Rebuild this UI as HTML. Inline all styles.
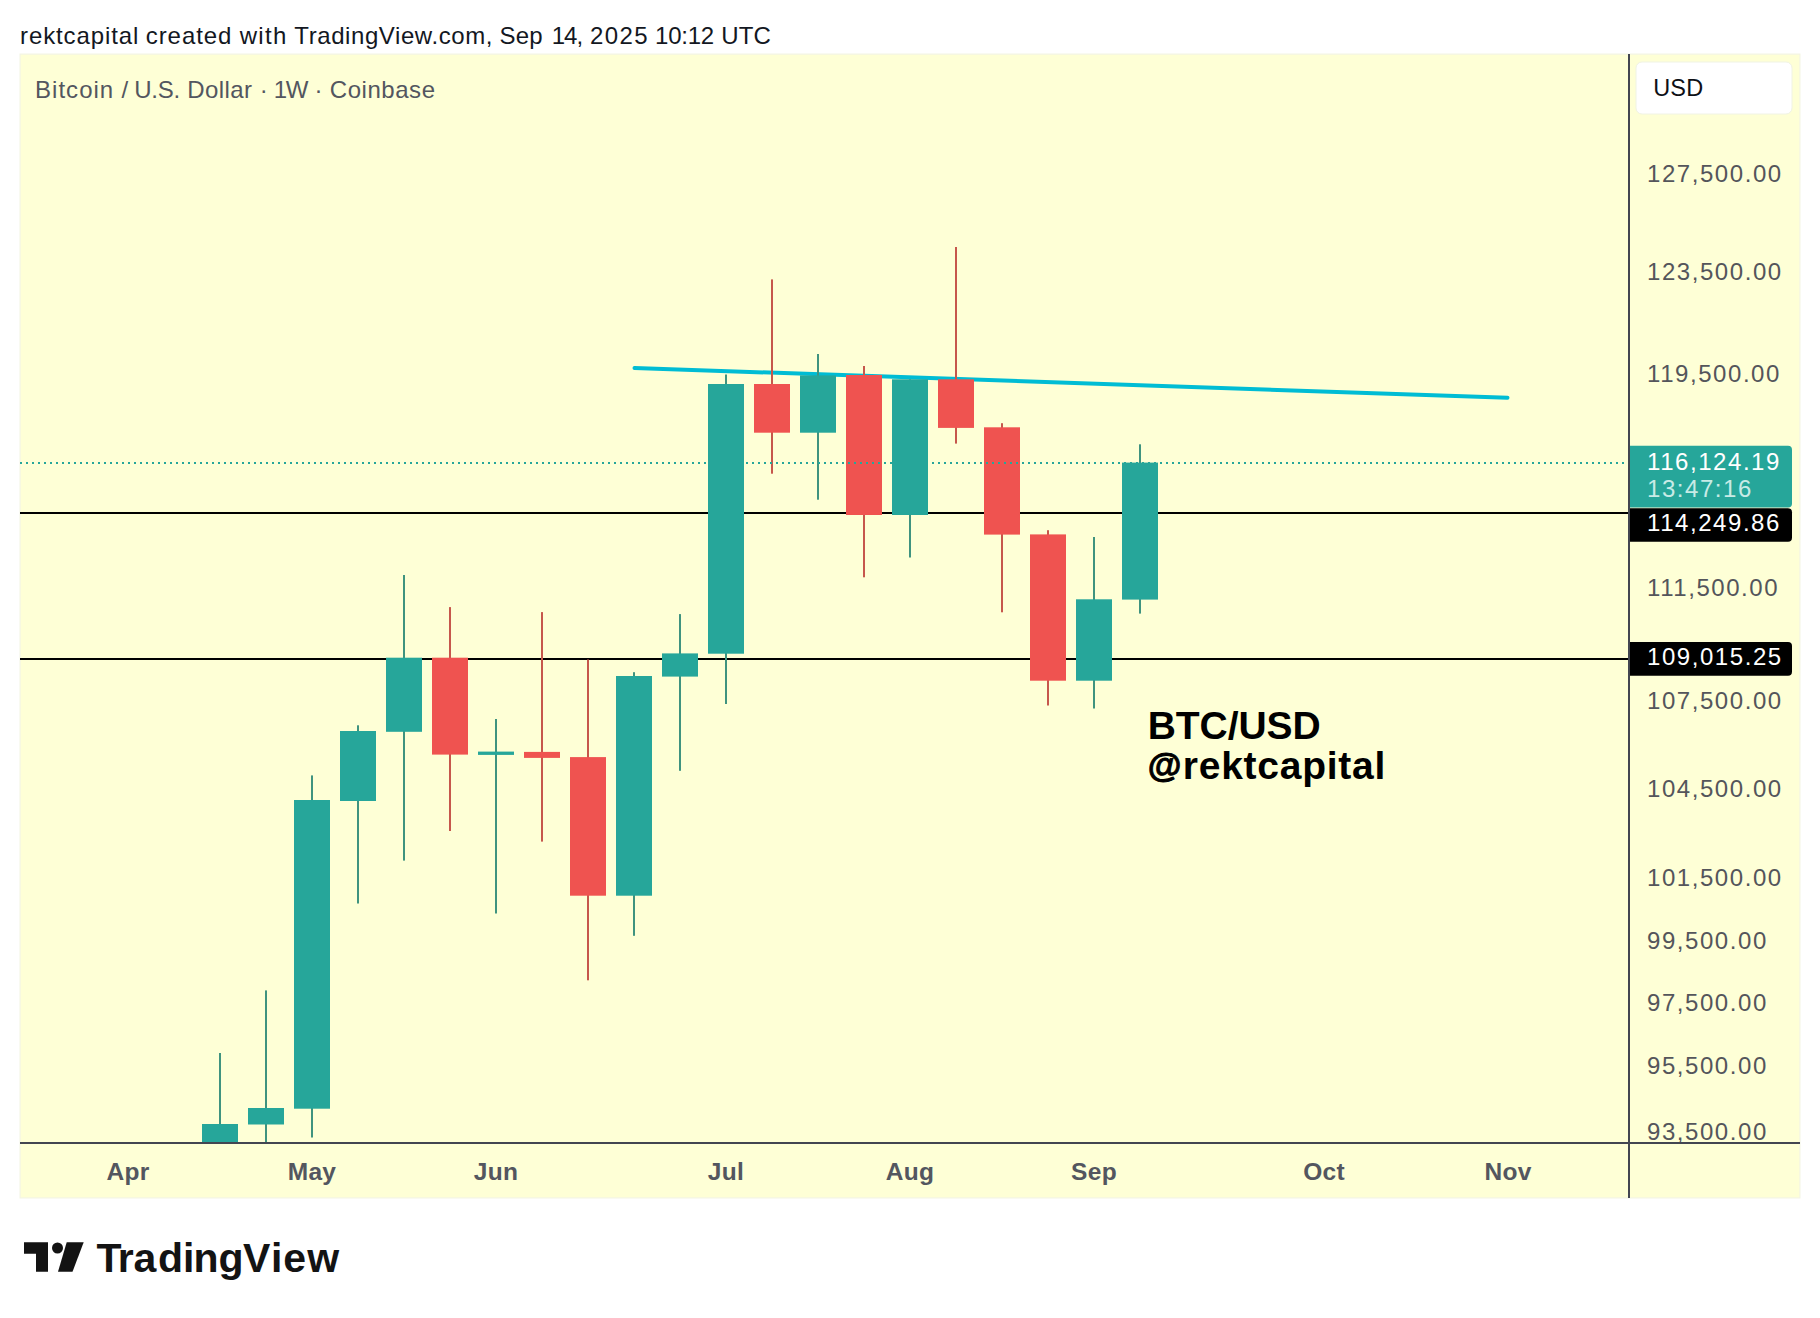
<!DOCTYPE html>
<html lang="en">
<head>
<meta charset="utf-8">
<title>BTC/USD 1W chart - rektcapital - TradingView</title>
<style>
html,body{margin:0;padding:0;background:#fff;}
body{width:1820px;height:1318px;overflow:hidden;position:relative;font-family:"Liberation Sans",sans-serif;}
#chart{position:absolute;left:20px;top:54px;width:1780px;height:1144px;background:#feffd6;}
svg{position:absolute;left:0;top:0;}
svg text{font-family:"Liberation Sans",sans-serif;white-space:pre;}
</style>
</head>
<body>
<div id="chart"></div>
<svg role="img" aria-label="BTC/USD weekly candlestick chart" width="1820" height="1318" viewBox="0 0 1820 1318">
<rect x="19.5" y="53.5" width="1781" height="1145" fill="#f4f5e4"/>
<rect x="20.7" y="54.8" width="1778.6" height="1142.5" fill="#feffd6"/>
<line x1="634.5" y1="368" x2="1507.5" y2="397.8" stroke="#00bcd4" stroke-width="4" stroke-linecap="round"/>
<rect x="20" y="512" width="1610" height="2" fill="#000"/>
<rect x="20" y="658" width="1610" height="2" fill="#000"/>
<rect x="219" y="1053" width="2" height="89" fill="#3f937f"/>
<rect x="202" y="1124" width="36" height="18" fill="#26a69a"/>
<rect x="265" y="990.4" width="2" height="151.6" fill="#3f937f"/>
<rect x="248" y="1108" width="36" height="16.5" fill="#26a69a"/>
<rect x="311" y="775.4" width="2" height="362.1" fill="#3f937f"/>
<rect x="294" y="800" width="36" height="308.7" fill="#26a69a"/>
<rect x="357" y="725.3" width="2" height="178.2" fill="#3f937f"/>
<rect x="340" y="731" width="36" height="70" fill="#26a69a"/>
<rect x="403" y="575" width="2" height="285.6" fill="#3f937f"/>
<rect x="386" y="657.7" width="36" height="74.1" fill="#26a69a"/>
<rect x="449" y="607.1" width="2" height="223.9" fill="#c6574c"/>
<rect x="432" y="657.7" width="36" height="96.9" fill="#ef5350"/>
<rect x="495" y="719" width="2" height="194.5" fill="#3f937f"/>
<rect x="478" y="751.6" width="36" height="3.3" fill="#26a69a"/>
<rect x="541" y="612.1" width="2" height="229.5" fill="#c6574c"/>
<rect x="524" y="751.9" width="36" height="6.0" fill="#ef5350"/>
<rect x="587" y="659.5" width="2" height="320.8" fill="#c6574c"/>
<rect x="570" y="757.1" width="36" height="138.6" fill="#ef5350"/>
<rect x="633" y="672.2" width="2" height="263.6" fill="#3f937f"/>
<rect x="616" y="676" width="36" height="219.7" fill="#26a69a"/>
<rect x="679" y="614.1" width="2" height="156.7" fill="#3f937f"/>
<rect x="662" y="653.4" width="36" height="23.2" fill="#26a69a"/>
<rect x="725" y="374.5" width="2" height="329.5" fill="#3f937f"/>
<rect x="708" y="384" width="36" height="269.7" fill="#26a69a"/>
<rect x="771" y="279.4" width="2" height="194.3" fill="#c6574c"/>
<rect x="754" y="384" width="36" height="48.7" fill="#ef5350"/>
<rect x="817" y="354" width="2" height="145.7" fill="#3f937f"/>
<rect x="800" y="375.4" width="36" height="57.3" fill="#26a69a"/>
<rect x="863" y="366" width="2" height="211.3" fill="#c6574c"/>
<rect x="846" y="375" width="36" height="140" fill="#ef5350"/>
<rect x="909" y="379.3" width="2" height="178.2" fill="#3f937f"/>
<rect x="892" y="379.3" width="36" height="135.7" fill="#26a69a"/>
<rect x="955" y="247" width="2" height="196.6" fill="#c6574c"/>
<rect x="938" y="379.3" width="36" height="48.6" fill="#ef5350"/>
<rect x="1001" y="423.2" width="2" height="189.1" fill="#c6574c"/>
<rect x="984" y="427.3" width="36" height="107.3" fill="#ef5350"/>
<rect x="1047" y="530.2" width="2" height="175.3" fill="#c6574c"/>
<rect x="1030" y="534.4" width="36" height="146.3" fill="#ef5350"/>
<rect x="1093" y="537" width="2" height="171.5" fill="#3f937f"/>
<rect x="1076" y="599.3" width="36" height="81.4" fill="#26a69a"/>
<rect x="1139" y="444.3" width="2" height="169.3" fill="#3f937f"/>
<rect x="1122" y="462.6" width="36" height="137.0" fill="#26a69a"/>
<line x1="20" y1="463" x2="1628" y2="463" stroke="#26a69a" stroke-width="2" stroke-dasharray="2 4"/>
<rect x="20" y="1142" width="1780" height="2" fill="#434651"/>
<rect x="1628" y="54" width="2" height="1144" fill="#434651"/>
<path d="M1630 445.7h158a4 4 0 0 1 4 4v53.7a4 4 0 0 1-4 4h-158z" fill="#26a69a"/>
<path d="M1630 508.3h158a4 4 0 0 1 4 4v25.5a4 4 0 0 1-4 4h-158z" fill="#000"/>
<path d="M1630 642h158a4 4 0 0 1 4 4v25.8a4 4 0 0 1-4 4h-158z" fill="#000"/>
<rect x="1636" y="62" width="156" height="52" rx="6" fill="#fff" stroke="#f0f3e4" stroke-width="1"/>
<g fill="#131313"><path d="M24 1242.3h24v29.4h-12v-17.9h-12z"/><circle cx="57.5" cy="1248" r="5.5"/><path d="M66.7 1242.3h17l-11.2 29.4h-14.5z"/></g>
<text y="44.1" font-size="24" fill="#131722" font-weight="normal"><tspan x="20.0" letter-spacing="0.9">rektcapital</tspan> <tspan x="145.7" letter-spacing="0.95">created</tspan> <tspan x="239.7" letter-spacing="1.33">with</tspan> <tspan x="294.3" letter-spacing="0.58">TradingView.com,</tspan> <tspan x="499.4" letter-spacing="0.3">Sep</tspan> <tspan x="551.7" letter-spacing="-1">14,</tspan> <tspan x="589.9" letter-spacing="1.4">2025</tspan> <tspan x="655.1" letter-spacing="-0.27">10:12</tspan> <tspan x="721.2" letter-spacing="0.15">UTC</tspan></text>
<text y="98" font-size="24" fill="#53565f" font-weight="normal"><tspan x="35.0" letter-spacing="1.03">Bitcoin</tspan> <tspan x="121.5" letter-spacing="0">/</tspan> <tspan x="134.2" letter-spacing="-0.23">U.S.</tspan> <tspan x="187.3" letter-spacing="0.4">Dollar</tspan> <tspan x="259.7" letter-spacing="0">·</tspan> <tspan x="273.85" letter-spacing="-1.5">1W</tspan> <tspan x="314.6" letter-spacing="0">·</tspan> <tspan x="329.8" letter-spacing="0.54">Coinbase</tspan></text>
<text x="1653.2" y="96" font-size="23.5" fill="#0e1016" font-weight="normal" letter-spacing="0.2" text-anchor="start">USD</text>
<text x="1647" y="181.5" font-size="24" fill="#54555b" font-weight="normal" letter-spacing="1.56" text-anchor="start">127,500.00</text>
<text x="1647" y="279.5" font-size="24" fill="#54555b" font-weight="normal" letter-spacing="1.56" text-anchor="start">123,500.00</text>
<text x="1647" y="381.5" font-size="24" fill="#54555b" font-weight="normal" letter-spacing="1.56" text-anchor="start">119,500.00</text>
<text x="1647" y="595.5" font-size="24" fill="#54555b" font-weight="normal" letter-spacing="1.56" text-anchor="start">111,500.00</text>
<text x="1647" y="708.5" font-size="24" fill="#54555b" font-weight="normal" letter-spacing="1.56" text-anchor="start">107,500.00</text>
<text x="1647" y="796.5" font-size="24" fill="#54555b" font-weight="normal" letter-spacing="1.56" text-anchor="start">104,500.00</text>
<text x="1647" y="886.0" font-size="24" fill="#54555b" font-weight="normal" letter-spacing="1.56" text-anchor="start">101,500.00</text>
<text x="1647" y="949.0" font-size="24" fill="#54555b" font-weight="normal" letter-spacing="1.56" text-anchor="start">99,500.00</text>
<text x="1647" y="1010.5" font-size="24" fill="#54555b" font-weight="normal" letter-spacing="1.56" text-anchor="start">97,500.00</text>
<text x="1647" y="1074.1" font-size="24" fill="#54555b" font-weight="normal" letter-spacing="1.56" text-anchor="start">95,500.00</text>
<clipPath id="cl"><rect x="1630" y="1100" width="170" height="42"/></clipPath>
<text x="1647" y="1140.2" font-size="24" fill="#54555b" font-weight="normal" letter-spacing="1.56" text-anchor="start" clip-path="url(#cl)">93,500.00</text>
<text x="1647" y="469.5" font-size="24" fill="#fff" font-weight="normal" letter-spacing="1.56" text-anchor="start">116,124.19</text>
<text x="1647" y="497.1" font-size="24" fill="#c8ebe6" font-weight="normal" letter-spacing="1.56" text-anchor="start">13:47:16</text>
<text x="1647" y="531.1" font-size="24" fill="#fff" font-weight="normal" letter-spacing="1.56" text-anchor="start">114,249.86</text>
<text x="1647" y="664.9" font-size="24" fill="#fff" font-weight="normal" letter-spacing="1.56" text-anchor="start">109,015.25</text>
<text x="128" y="1180" font-size="24.5" fill="#53565f" font-weight="bold" letter-spacing="0.3" text-anchor="middle">Apr</text>
<text x="312" y="1180" font-size="24.5" fill="#53565f" font-weight="bold" letter-spacing="0.3" text-anchor="middle">May</text>
<text x="496" y="1180" font-size="24.5" fill="#53565f" font-weight="bold" letter-spacing="0.3" text-anchor="middle">Jun</text>
<text x="726" y="1180" font-size="24.5" fill="#53565f" font-weight="bold" letter-spacing="0.3" text-anchor="middle">Jul</text>
<text x="910" y="1180" font-size="24.5" fill="#53565f" font-weight="bold" letter-spacing="0.3" text-anchor="middle">Aug</text>
<text x="1094" y="1180" font-size="24.5" fill="#53565f" font-weight="bold" letter-spacing="0.3" text-anchor="middle">Sep</text>
<text x="1324" y="1180" font-size="24.5" fill="#53565f" font-weight="bold" letter-spacing="0.3" text-anchor="middle">Oct</text>
<text x="1508" y="1180" font-size="24.5" fill="#53565f" font-weight="bold" letter-spacing="0.3" text-anchor="middle">Nov</text>
<text x="1147.7" y="738.6" font-size="39" fill="#000" font-weight="bold" letter-spacing="-0.05" text-anchor="start">BTC/USD</text>
<text y="778.7" fill="#000" font-weight="bold"><tspan x="1147.7" dy="-1.5" font-size="34.5" stroke="#000" stroke-width="0.9">@</tspan><tspan x="1182.8" dy="1.5" font-size="39" letter-spacing="0.74">rektcapital</tspan></text>
<text x="96.5 117.8 133.6 157.9 183.0 193.4 218.6 242.9 271 283.3 307.2" y="1271.8" font-size="41" font-weight="bold" fill="#131313">TradingView</text>
</svg>
</body>
</html>
